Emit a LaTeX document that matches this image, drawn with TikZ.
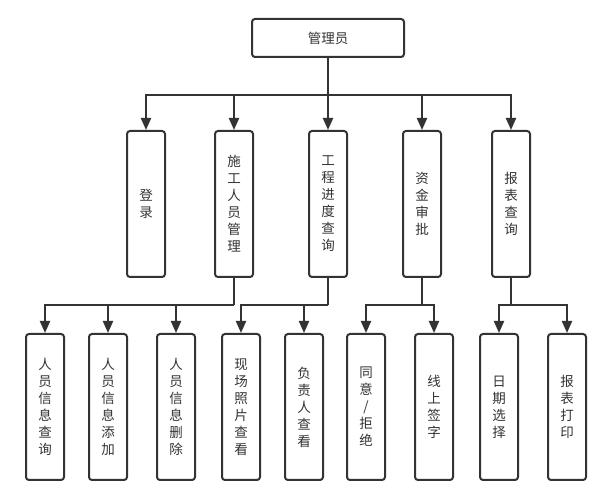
\documentclass[tikz,border=0pt]{standalone}
\usepackage{fontspec}
\newfontfamily\cjk{Noto Sans CJK SC}
\usetikzlibrary{arrows.meta}
\colorlet{ink}{black!80}
\tikzset{
  box/.style={rectangle,rounded corners=3pt,draw=ink,line width=2pt,fill=white,
    minimum width=38pt,minimum height=146pt,inner sep=0pt,align=center,
    font=\cjk\fontsize{13.5}{17}\selectfont,text=ink},
  root/.style={box,minimum width=152pt,minimum height=38pt},
  link/.style={draw=ink,line width=2pt},
  arrow/.style={link,-{Triangle[length=12pt,width=10pt]}},
}
\begin{document}
\begin{tikzpicture}[x=1pt,y=-1pt]
  \fill[white] (0,0) rectangle (600,502);
  \useasboundingbox (0,0) rectangle (600,502);
  % top
  \node[root] (admin) at (328,38) {管理员};
  % first level
  \node[box] (login)    at (146,204) {登\\录};
  \node[box] (staff)    at (234,204) {施\\工\\人\\员\\管\\理};
  \node[box] (progress) at (328,204) {工\\程\\进\\度\\查\\询};
  \node[box] (fund)     at (422,204) {资\\金\\审\\批};
  \node[box] (report)   at (511,204) {报\\表\\查\\询};
  % second level
  \node[box] (query)  at (45,407)  {人\\员\\信\\息\\查\\询};
  \node[box] (add)    at (108,407) {人\\员\\信\\息\\添\\加};
  \node[box] (delete) at (176,407) {人\\员\\信\\息\\删\\除};
  \node[box] (photo)  at (241,407) {现\\场\\照\\片\\查\\看};
  \node[box] (leader) at (304,407) {负\\责\\人\\查\\看};
  \node[box] (agree)  at (366,407) {同\\意\\/\\拒\\绝};
  \node[box] (sign)   at (434,407) {线\\上\\签\\字};
  \node[box] (date)   at (499,407) {日\\期\\选\\择};
  \node[box] (print)  at (567,407) {报\\表\\打\\印};
  % connectors
  \path (admin.south) ++(0,37) coordinate (b0);
  \draw[link] (admin.south) -- (b0);
  \foreach \n in {login,staff,progress,fund,report}
    \draw[arrow] (b0) -| (\n.north);
  \path (staff.south) ++(0,27) coordinate (b1);
  \draw[link] (staff.south) -- (b1);
  \foreach \n in {query,add,delete}
    \draw[arrow] (b1) -| (\n.north);
  \path (progress.south) ++(0,27) coordinate (b2);
  \draw[link] (progress.south) -- (b2);
  \foreach \n in {photo,leader}
    \draw[arrow] (b2) -| (\n.north);
  \path (fund.south) ++(0,27) coordinate (b3);
  \draw[link] (fund.south) -- (b3);
  \foreach \n in {agree,sign}
    \draw[arrow] (b3) -| (\n.north);
  \path (report.south) ++(0,27) coordinate (b4);
  \draw[link] (report.south) -- (b4);
  \foreach \n in {date,print}
    \draw[arrow] (b4) -| (\n.north);
\end{tikzpicture}
\end{document}
